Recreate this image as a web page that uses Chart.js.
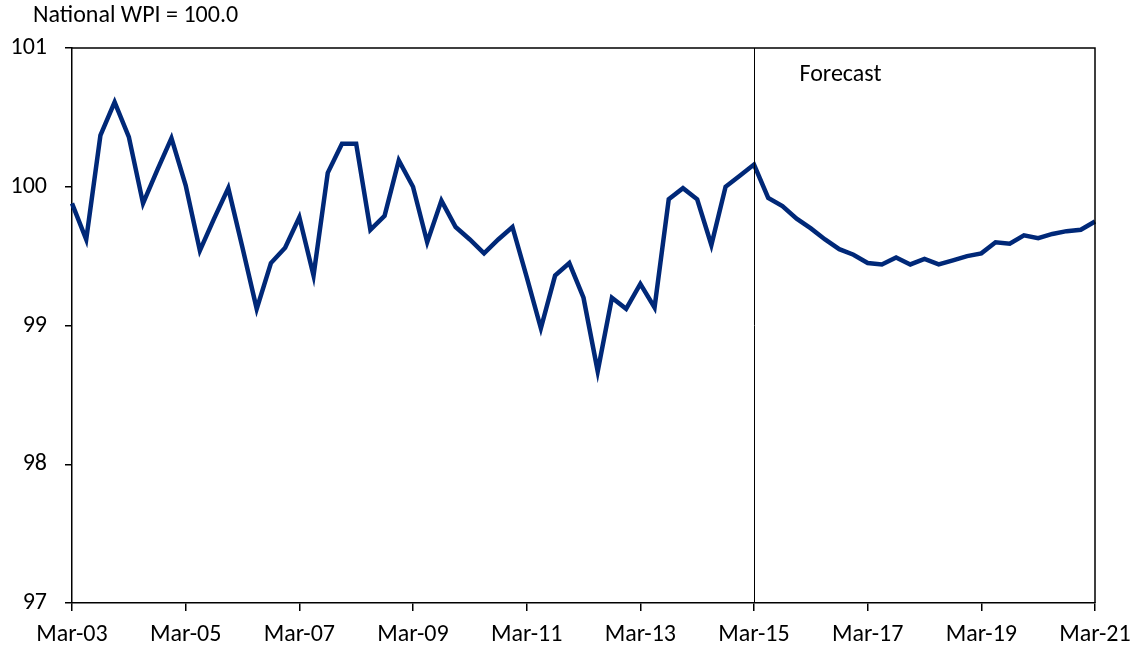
<!DOCTYPE html>
<html>
<head>
<meta charset="utf-8">
<script src="https://cdn.jsdelivr.net/npm/chart.js@4.4.1/dist/chart.umd.min.js"></script>
<style>
  html, body { margin: 0; padding: 0; background: #fff; }
  #wrap { width: 1141px; height: 652px; }
</style>
</head>
<body>
<div id="wrap"><canvas id="graficoWPI"></canvas></div>
<script>
// quarterly index, national WPI = 100
const meses = ["Mar", "Jun", "Sep", "Dec"]
const anios = ["03","04","05","06","07","08","09","10","11","12","13","14","15","16","17","18","19","20","21"]

const trimestres = []
anios.forEach(a => meses.forEach(m => trimestres.push(m + "-" + a)))
trimestres.length = 73 // ends at Mar-21

const valoresWPI = [
    99.88, 99.62, 100.37, 100.61, 100.36, 99.88, 100.12, 100.35,
    100.01, 99.54, 99.77, 99.99, 99.56, 99.12, 99.45, 99.56,
    99.78, 99.36, 100.10, 100.31, 100.31, 99.69, 99.79, 100.19,
    100.00, 99.60, 99.90, 99.71, 99.62, 99.52, 99.62, 99.71,
    99.35, 98.98, 99.36, 99.45, 99.20, 98.67, 99.20, 99.12,
    99.30, 99.13, 99.91, 99.99, 99.91, 99.58, 100.00, 100.08,
    100.16, 99.92, 99.86, 99.77, 99.70, 99.62, 99.55, 99.51,
    99.45, 99.44, 99.49, 99.44, 99.48, 99.44, 99.47, 99.50,
    99.52, 99.60, 99.59, 99.65, 99.63, 99.66, 99.68, 99.69,
    99.75,
]

const inicioPronostico = "Mar-15"
const tituloEje = "National WPI = 100.0"
const fuente = "Calibri, Carlito, Lato, sans-serif"
const tamFuente = 24

const marcoYPronostico = {
    id: "marcoYPronostico",
    afterDraw(chart) {
        const { ctx, chartArea: a, scales } = chart
        ctx.save()
        ctx.strokeStyle = "#000"
        ctx.lineWidth = 1.5
        ctx.beginPath()
        ctx.moveTo(a.left, a.top)
        ctx.lineTo(a.right, a.top)
        ctx.lineTo(a.right, a.bottom)
        ctx.stroke()

        const x = Math.round(scales.x.getPixelForValue(inicioPronostico)) + 0.5
        ctx.lineWidth = 1
        ctx.beginPath()
        ctx.moveTo(x, a.top)
        ctx.lineTo(x, a.bottom)
        ctx.stroke()

        ctx.fillStyle = "#000"
        ctx.font = tamFuente + "px " + fuente
        ctx.textBaseline = "middle"
        ctx.fillText("Forecast", x + 45, 75)
        ctx.fillText(tituloEje, 33, 16)
        ctx.restore()
    },
}

const dataGraficoWPI = {
    labels: trimestres,
    datasets: [
        {
            label: "WPI",
            data: valoresWPI,
            borderColor: "#002878",
            borderWidth: 4.5,
            pointRadius: 0,
            tension: 0,
            fill: false,
        },
    ],
}

const configGraficoWPI = {
    type: "line",
    data: dataGraficoWPI,
    plugins: [marcoYPronostico],
    options: {
        responsive: true,
        maintainAspectRatio: false,
        animation: false,
        layout: {
            padding: { top: 48, right: 46, left: 0, bottom: 0 },
        },
        plugins: {
            legend: { display: false },
            tooltip: { enabled: false },
        },
        scales: {
            x: {
                offset: false,
                grid: {
                    drawOnChartArea: false,
                    tickLength: 8,
                    offset: false,
                    color: ctx => (ctx.index % 8 === 0 ? "#000" : "rgba(0,0,0,0)"),
                    lineWidth: 1.5,
                },
                border: { color: "#000", width: 1.5 },
                ticks: {
                    autoSkip: false,
                    maxRotation: 0,
                    color: "#000",
                    padding: 10,
                    font: { size: tamFuente, family: fuente },
                    callback: (v, i) => (i % 8 === 0 ? trimestres[i] : ""),
                },
                afterFit: scale => { scale.height = 49 },
            },
            y: {
                min: 97,
                max: 101,
                grid: {
                    drawOnChartArea: false,
                    tickLength: 7,
                    color: "#000",
                    lineWidth: 1.5,
                },
                border: { color: "#000", width: 1.5 },
                ticks: {
                    stepSize: 1,
                    color: "#000",
                    padding: 18,
                    font: { size: tamFuente, family: fuente },
                },
                afterFit: scale => { scale.width = 72 },
            },
        },
    },
}

const chart1 = new Chart(document.getElementById("graficoWPI"), configGraficoWPI)
</script>
</body>
</html>
